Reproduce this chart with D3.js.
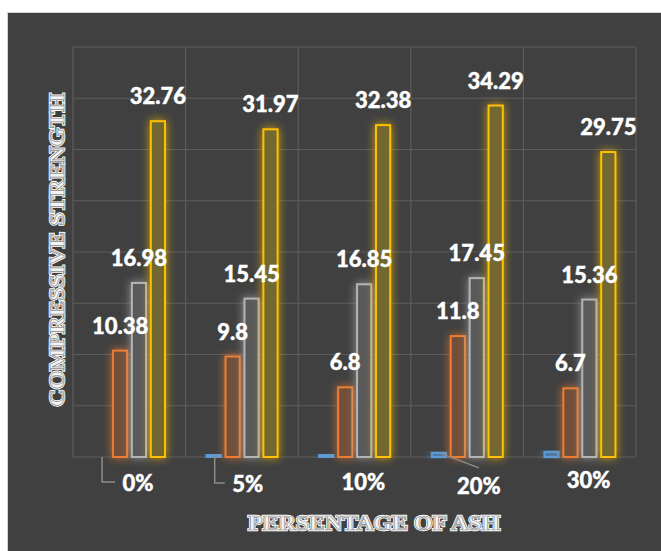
<!DOCTYPE html>
<html>
<head>
<meta charset="utf-8">
<script src="https://cdn.jsdelivr.net/npm/d3@7"></script>
<style>
  body { margin: 0; background: #fff; }
  #chart-container svg { display: block; }
</style>
</head>
<body>
<div id="chart-container"></div>
<script>
// chart data
const categories = ["0%", "5%", "10%", "20%", "30%"];
const seriesNames = ["ash", "s1", "s2", "s3"];
const ashValues = [0, 0.2, 0.2, 0.4, 0.5];
const series1Values = [10.38, 9.8, 6.8, 11.8, 6.7];
const series2Values = [16.98, 15.45, 16.85, 17.45, 15.36];
const series3Values = [32.76, 31.97, 32.38, 34.29, 29.75];
const yTicks = [0, 5, 10, 15, 20, 25, 30, 35, 40];

const seriesColors = { ash: "#5b9bd5", s1: "#ed7d31", s2: "#b4b4b4", s3: "#ffc000" };
const seriesFills = { ash: "#4f7aa5", s1: "#71503a", s2: "#5a5a5a", s3: "#716733" };

// category label placement relative to the small blue bar (dx, dy)
const catLabelOffset = [[37, 34], [34, 37], [37, 35], [40, 41], [37, 36]];
// which category labels have a leader line, and its style
const leaderType = ["elbow", "elbow", null, "diag", null];

const W = 661, H = 551;
const margin = { top: 47, right: 25, bottom: 94, left: 73 };
const plotW = W - margin.left - margin.right;
const plotH = H - margin.top - margin.bottom;

const svg = d3.select("#chart-container")
  .append("svg")
  .attr("width", W)
  .attr("height", H);

// background panel
svg.append("rect").attr("width", W).attr("height", H).attr("fill", "#fff");
svg.append("rect")
  .attr("x", 7.5).attr("y", 12.5)
  .attr("width", W).attr("height", H)
  .attr("fill", "#404040")
  .attr("stroke", "#d4d4d4");

// glow filters for each series
const defs = svg.append("defs");
seriesNames.forEach(s => {
  const f = defs.append("filter")
    .attr("id", "glow-" + s)
    .attr("x", "-150%").attr("y", "-30%")
    .attr("width", "400%").attr("height", "160%");
  f.append("feFlood").attr("flood-color", seriesColors[s]).attr("flood-opacity", 0.75);
  f.append("feComposite").attr("in2", "SourceAlpha").attr("operator", "in");
  f.append("feGaussianBlur").attr("stdDeviation", 5).attr("result", "blur");
  const m = f.append("feMerge");
  m.append("feMergeNode").attr("in", "blur");
  m.append("feMergeNode").attr("in", "SourceGraphic");
});

const g = svg.append("g").attr("transform", `translate(${margin.left},${margin.top})`);

const x0 = d3.scaleBand().domain(categories).range([0, plotW]);
const x1 = d3.scaleBand().domain(seriesNames).range([21, 92]).paddingInner(0.25);
const y = d3.scaleLinear().domain([0, 40]).range([plotH, 0]);

// horizontal gridlines
g.selectAll(".hgrid")
  .data(yTicks)
  .join("line")
  .attr("x1", 0).attr("x2", plotW)
  .attr("y1", d => y(d)).attr("y2", d => y(d))
  .attr("stroke", "#5c5c5c")
  .attr("stroke-width", 1.2);

// vertical gridlines at category boundaries
const vLines = categories.map(c => x0(c)).concat([plotW]);
g.selectAll(".vgrid")
  .data(vLines)
  .join("line")
  .attr("x1", d => d).attr("x2", d => d)
  .attr("y1", 0).attr("y2", plotH)
  .attr("stroke", "#5c5c5c")
  .attr("stroke-width", 1.2);

const table = categories.map((c, i) => ({
  cat: c,
  ash: ashValues[i],
  s1: series1Values[i],
  s2: series2Values[i],
  s3: series3Values[i]
}));

// bars
const groups = g.selectAll(".grp")
  .data(table)
  .join("g")
  .attr("transform", d => `translate(${x0(d.cat)},0)`);

groups.selectAll("rect")
  .data(d => seriesNames.map(s => ({ s, v: d[s] })).filter(e => e.v > 0))
  .join("rect")
  .attr("x", d => x1(d.s))
  .attr("y", d => y(d.v))
  .attr("width", x1.bandwidth())
  .attr("height", d => y(0) - y(d.v))
  .attr("fill", d => seriesFills[d.s])
  .attr("stroke", d => seriesColors[d.s])
  .attr("stroke-width", 2)
  .attr("filter", d => `url(#glow-${d.s})`);

// value labels
const labelFont = "Lato, 'Open Sans', sans-serif";
groups.selectAll(".val")
  .data(d => ["s1", "s2", "s3"].map(s => ({ s, v: d[s] })))
  .join("text")
  .attr("x", d => x1(d.s) + x1.bandwidth() / 2)
  .attr("y", d => y(d.v) - 17)
  .attr("text-anchor", "middle")
  .style("font-family", labelFont)
  .style("font-weight", 900)
  .style("font-size", "22px")
  .attr("fill", "#fff")
  .attr("stroke", "#fff")
  .attr("stroke-width", 0.4)
  .text(d => d.v);

// category labels (attached to the small blue bars)
table.forEach((d, i) => {
  const bx = x0(d.cat) + x1("ash") + x1.bandwidth() / 2;
  const by = y(d.ash);
  const [dx, dy] = catLabelOffset[i];
  if (leaderType[i] === "elbow") {
    g.append("path")
      .attr("d", `M${bx + 1},${by} V${by + dy - 9} H${bx + dx - 23}`)
      .attr("fill", "none")
      .attr("stroke", "#8c8c8c")
      .attr("stroke-width", 1.5);
  } else if (leaderType[i] === "diag") {
    g.append("line")
      .attr("x1", bx + 3).attr("y1", by + 1)
      .attr("x2", bx + dx).attr("y2", by + dy - 26)
      .attr("stroke", "#8c8c8c")
      .attr("stroke-width", 1.5);
  }
  g.append("text")
    .attr("x", bx + dx)
    .attr("y", by + dy)
    .attr("text-anchor", "middle")
    .style("font-family", labelFont)
    .style("font-weight", 900)
    .style("font-size", "22px")
    .attr("fill", "#fff")
    .attr("stroke", "#fff")
    .attr("stroke-width", 0.4)
    .text(d.cat);
});

// axis titles with outlined serif look
function outlinedTitle(sel, label, len) {
  sel.append("text")
    .attr("text-anchor", "middle")
    .attr("textLength", len)
    .attr("lengthAdjust", "spacingAndGlyphs")
    .style("font-family", "'Liberation Serif', 'Times New Roman', serif")
    .style("font-weight", 700)
    .style("font-size", "22px")
    .attr("fill", "#fff")
    .attr("stroke", "#fff")
    .attr("stroke-width", 2.4)
    .text(label);
  sel.append("text")
    .attr("text-anchor", "middle")
    .attr("textLength", len)
    .attr("lengthAdjust", "spacingAndGlyphs")
    .style("font-family", "'Liberation Serif', 'Times New Roman', serif")
    .style("font-weight", 700)
    .style("font-size", "22px")
    .attr("fill", "#f4f4f4")
    .attr("stroke", "#8a8a8a")
    .attr("stroke-width", 0.7)
    .text(label);
}

outlinedTitle(svg.append("g").attr("transform", "translate(64,250) rotate(-90)"),
  "COMPRESSIVE STRENGTH", 313);
outlinedTitle(svg.append("g").attr("transform", "translate(374,530)"),
  "PERSENTAGE OF ASH", 252);
</script>
</body>
</html>
